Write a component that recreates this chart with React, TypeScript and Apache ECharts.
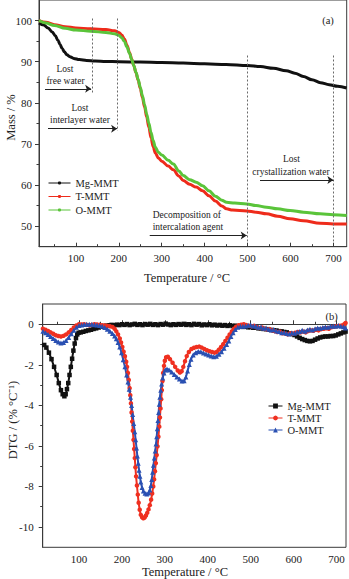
import React, { useEffect, useRef } from 'react';
import * as echarts from 'echarts';

// ---- data -------------------------------------------------------------
const sampleNames = ['Mg-MMT', 'T-MMT', 'O-MMT'];
const dtgPrefix = 'DTG ';

const tempTicks = [100, 200, 300, 400, 500, 600, 700];
const tempMinorTicks = [50, 150, 250, 350, 450, 550, 650];
const massTicks = [50, 60, 70, 80, 90, 100];
const massMinorTicks = [55, 65, 75, 85, 95];
const dtgTicks = [-10, -8, -6, -4, -2, 0];
const dtgMinorTicks = [-9, -7, -5, -3, -1];

// TGA: [temperature °C, mass %]
const tgaMg = [[14,99.4],[25,98.9],[35,98.2],[45,97.2],[52,96.3],[58,95.2],[63,94.2],[68,93.2],[73,92.4],[79,91.7],[86,91.2],[95,90.8],[108,90.5],[125,90.3],[145,90.15],[170,90.05],[200,90.0],[250,89.9],[300,89.8],[350,89.65],[400,89.5],[450,89.3],[500,89.05],[530,88.8],[560,88.4],[590,87.8],[610,87.2],[630,86.4],[650,85.6],[670,84.9],[690,84.4],[710,84.0],[731,83.6]];
const tgaT = [[14,100],[30,99.6],[50,99.0],[75,98.5],[100,98.2],[135,98.0],[170,97.8],[190,97.5],[200,97.1],[207,96.5],[213,95.5],[219,94.0],[225,92.2],[230,90.6],[235,89.0],[240,87.3],[245,85.5],[250,83.5],[255,81.3],[260,79.0],[265,76.5],[270,74.0],[275,71.5],[280,69.3],[285,67.8],[292,66.6],[300,65.8],[315,64.6],[327,63.7],[340,62.2],[350,61.1],[365,60.2],[380,59.5],[395,58.6],[410,57.4],[425,56.1],[440,54.9],[451,54.2],[465,53.9],[498,53.7],[520,53.4],[544,53.0],[570,52.4],[599,51.8],[630,51.3],[669,50.7],[700,50.55],[731,50.5]];
const tgaO = [[14,100],[30,99.4],[50,98.8],[75,98.1],[100,97.7],[135,97.4],[170,97.1],[190,96.8],[200,96.4],[207,95.8],[213,94.9],[219,93.6],[225,92.0],[230,90.5],[235,89.0],[240,87.4],[245,85.7],[250,83.8],[255,81.7],[260,79.5],[265,77.2],[270,75.0],[275,72.8],[280,70.8],[285,69.2],[292,68.0],[300,67.3],[315,66.0],[327,65.1],[340,63.4],[350,62.3],[365,61.3],[380,60.7],[395,59.8],[410,58.6],[425,57.3],[440,56.3],[451,55.8],[470,55.6],[498,55.4],[520,55.0],[544,54.6],[570,54.2],[599,53.8],[630,53.4],[669,53.0],[700,52.8],[731,52.6]];

// DTG: [temperature °C, %/°C]
const dtgMg = [[15,-0.98],[19,-1.02],[24,-1.15],[30,-1.4],[36,-1.72],[42,-2.1],[48,-2.5],[53,-2.9],[58,-3.25],[62,-3.45],[66,-3.55],[69,-3.45],[72,-3.2],[75,-2.9],[78,-2.5],[81,-2.1],[84,-1.7],[87,-1.3],[90,-0.95],[93,-0.68],[96,-0.5],[99,-0.42],[104,-0.4],[110,-0.37],[116,-0.33],[122,-0.3],[128,-0.27],[134,-0.23],[140,-0.2],[146,-0.16],[152,-0.12],[158,-0.09],[164,-0.07],[170,-0.05],[176,-0.03],[182,-0.05],[188,-0.02],[194,-0.04],[200,0.0],[206,-0.03],[212,0.01],[218,-0.04],[224,-0.01],[230,0.02],[236,-0.03],[242,0.0],[248,-0.04],[254,0.01],[260,-0.02],[266,0.02],[272,-0.03],[278,0.0],[284,-0.04],[290,0.01],[296,-0.02],[302,0.03],[308,-0.01],[314,-0.04],[320,0.0],[326,-0.03],[332,0.01],[338,-0.02],[344,0.02],[350,-0.03],[356,0.0],[362,-0.04],[368,0.02],[374,-0.02],[380,0.01],[386,-0.05],[392,-0.01],[398,-0.04],[404,0.0],[410,-0.05],[416,-0.02],[422,-0.06],[428,-0.03],[434,-0.07],[440,-0.04],[446,-0.08],[452,-0.05],[458,-0.09],[464,-0.07],[470,-0.11],[476,-0.1],[482,-0.13],[488,-0.12],[494,-0.15],[500,-0.14],[506,-0.17],[512,-0.16],[518,-0.2],[524,-0.2],[530,-0.23],[536,-0.24],[542,-0.27],[548,-0.28],[554,-0.3],[560,-0.31],[566,-0.34],[572,-0.35],[578,-0.38],[584,-0.4],[590,-0.45],[596,-0.48],[602,-0.53],[608,-0.6],[614,-0.67],[620,-0.73],[626,-0.78],[632,-0.82],[638,-0.84],[644,-0.82],[650,-0.76],[656,-0.7],[662,-0.65],[668,-0.62],[674,-0.6],[680,-0.6],[686,-0.58],[692,-0.58],[698,-0.55],[704,-0.5],[710,-0.45],[716,-0.4],[721,-0.36]];
const dtgT = [[16,-0.22],[22,-0.27],[28,-0.33],[34,-0.4],[40,-0.47],[46,-0.54],[52,-0.58],[58,-0.6],[64,-0.57],[70,-0.5],[76,-0.4],[82,-0.28],[88,-0.16],[94,-0.06],[100,0.0],[106,-0.01],[112,0.0],[118,-0.03],[124,-0.05],[130,-0.03],[136,0.0],[142,-0.01],[148,-0.03],[154,-0.05],[160,-0.06],[166,-0.08],[172,-0.1],[178,-0.13],[183,-0.22],[187,-0.35],[191,-0.5],[195,-0.7],[198,-0.9],[201,-1.12],[204,-1.35],[207,-1.58],[210,-1.85],[212,-2.1],[214,-2.4],[216,-2.75],[218,-3.15],[219.5,-3.5],[221,-3.9],[222.5,-4.35],[224,-4.8],[225.5,-5.25],[227,-5.7],[228.5,-6.15],[230,-6.6],[231.5,-7.05],[233,-7.5],[235,-7.95],[237,-8.4],[239,-8.8],[241.5,-9.15],[244,-9.4],[247,-9.52],[250,-9.57],[253,-9.53],[256,-9.43],[259,-9.3],[262,-9.13],[265,-8.92],[268,-8.65],[270.5,-8.35],[273,-8.0],[275,-7.65],[277,-7.25],[279,-6.85],[281,-6.45],[283,-6.02],[285,-5.55],[287,-5.05],[288.5,-4.6],[290,-4.15],[291.5,-3.7],[293,-3.25],[294.5,-2.8],[296,-2.4],[298,-2.05],[300,-1.8],[303,-1.63],[307,-1.6],[312,-1.72],[318,-1.9],[324,-2.1],[330,-2.28],[335,-2.38],[339,-2.32],[343,-2.1],[347,-1.82],[351,-1.57],[356,-1.37],[362,-1.22],[368,-1.16],[374,-1.12],[380,-1.1],[386,-1.15],[392,-1.22],[398,-1.28],[404,-1.33],[410,-1.37],[416,-1.4],[421,-1.36],[426,-1.25],[431,-1.12],[436,-0.98],[441,-0.82],[446,-0.66],[451,-0.5],[456,-0.35],[461,-0.22],[466,-0.12],[472,-0.05],[478,-0.02],[484,0.0],[490,-0.04],[496,-0.07],[502,-0.1],[508,-0.08],[514,-0.14],[520,-0.18],[526,-0.16],[532,-0.22],[538,-0.26],[544,-0.24],[550,-0.3],[556,-0.34],[562,-0.38],[568,-0.36],[574,-0.44],[580,-0.46],[586,-0.5],[592,-0.44],[598,-0.47],[604,-0.42],[610,-0.38],[616,-0.4],[622,-0.36],[628,-0.4],[634,-0.33],[640,-0.3],[646,-0.32],[652,-0.27],[658,-0.3],[664,-0.24],[670,-0.22],[676,-0.2],[682,-0.22],[688,-0.15],[694,-0.12],[700,-0.1],[706,-0.08],[712,-0.06],[718,0.0],[721,0.06]];
const dtgO = [[16,-0.35],[22,-0.42],[28,-0.5],[34,-0.6],[40,-0.7],[46,-0.8],[52,-0.88],[58,-0.92],[64,-0.9],[70,-0.8],[76,-0.65],[82,-0.47],[88,-0.3],[94,-0.15],[100,-0.06],[106,-0.03],[112,-0.01],[118,0.0],[124,0.0],[130,0.0],[136,-0.02],[142,-0.04],[148,-0.06],[154,-0.1],[160,-0.16],[166,-0.24],[172,-0.34],[178,-0.46],[183,-0.58],[187,-0.72],[191,-0.9],[195,-1.12],[199,-1.4],[203,-1.75],[207,-2.1],[211,-2.5],[214,-2.85],[217,-3.2],[220,-3.6],[222.5,-4.0],[225,-4.45],[227.5,-4.9],[230,-5.3],[232,-5.7],[234,-6.1],[236,-6.5],[238,-6.85],[240,-7.2],[242,-7.5],[244,-7.78],[247,-8.05],[250,-8.22],[254,-8.33],[258,-8.37],[262,-8.32],[265,-8.18],[267.5,-7.95],[269.5,-7.65],[271.5,-7.3],[273.5,-6.95],[275.5,-6.6],[277.5,-6.25],[279.5,-5.9],[281,-5.55],[282.5,-5.15],[284,-4.75],[285.5,-4.35],[287,-3.95],[288.5,-3.6],[290.5,-3.25],[292.5,-2.95],[295,-2.65],[298,-2.4],[301,-2.25],[305,-2.2],[310,-2.25],[316,-2.36],[322,-2.48],[328,-2.6],[334,-2.7],[340,-2.8],[345,-2.78],[349,-2.6],[353,-2.3],[357,-1.98],[361,-1.72],[366,-1.52],[372,-1.4],[378,-1.34],[384,-1.36],[390,-1.42],[396,-1.47],[402,-1.52],[408,-1.57],[414,-1.6],[420,-1.58],[426,-1.48],[432,-1.35],[438,-1.18],[444,-1.0],[449,-0.82],[454,-0.6],[459,-0.42],[464,-0.26],[470,-0.15],[476,-0.1],[482,-0.1],[488,-0.08],[494,-0.05],[500,-0.04],[506,-0.08],[512,-0.1],[518,-0.15],[524,-0.14],[530,-0.2],[536,-0.18],[542,-0.24],[548,-0.28],[554,-0.26],[560,-0.33],[566,-0.36],[572,-0.42],[578,-0.4],[584,-0.45],[590,-0.48],[596,-0.42],[602,-0.44],[608,-0.38],[614,-0.36],[620,-0.3],[626,-0.34],[632,-0.28],[638,-0.25],[644,-0.28],[650,-0.22],[656,-0.18],[662,-0.2],[668,-0.16],[674,-0.13],[680,-0.15],[686,-0.1],[692,-0.08],[698,-0.1],[704,-0.06],[710,-0.1],[716,-0.12],[721,-0.18]];

// Stage boundaries (dotted) and stage arrows: [T start, T end, mass from, mass to]
const stageBounds = [[137, 137, 100.5, 82.2], [197, 197, 100.5, 73.2], [500, 500, 91.5, 46.3], [700, 700, 91.5, 46.3]];
const stageArrows = [[28, 135.5, 83.4, 83.4], [35, 196, 73.7, 73.7], [529, 700, 61.2, 61.2], [272, 498, 47.7, 47.7]];

// ---- styling ----------------------------------------------------------
const FONT = 'Liberation Serif';
const INK = '#222';
const AXIS = '#3a3a3a';
const colors = ['#111111', '#ee2b1b', '#5ac43a'];
const dtgColors = ['#111111', '#ef3020', '#2a50b2'];

const tempRangeA = [14, 731];
const tempRangeB = [15.5, 722];

function axisPair(kind: 'x' | 'y', gridIndex: number, range: number[], major: number[], minor: number[], opts: any) {
  const base = {
    type: 'value',
    gridIndex,
    min: range[0],
    max: range[1],
    position: kind === 'x' ? 'bottom' : 'left',
    splitLine: { show: false },
  };
  return [
    {
      ...base,
      axisLine: { show: true, lineStyle: { color: AXIS, width: 1 } },
      axisTick: { show: true, inside: opts.inside, length: 4, customValues: major, lineStyle: { color: AXIS } },
      axisLabel: { show: true, customValues: major, margin: opts.margin, fontFamily: FONT, fontSize: 11, color: INK },
    },
    {
      ...base,
      axisLine: { show: false },
      axisTick: { show: true, inside: opts.inside, length: 2.5, customValues: minor, lineStyle: { color: AXIS } },
      axisLabel: { show: false },
    },
  ];
}

function tgaSeries(name: string, data: number[][], color: string) {
  return {
    type: 'line', name, xAxisIndex: 0, yAxisIndex: 0, data,
    symbol: 'circle', symbolSize: 3, showSymbol: false, smooth: 0.35, smoothMonotone: 'x',
    lineStyle: { color, width: 3 }, itemStyle: { color },
  };
}

function dtgSeries(name: string, data: number[][], color: string, symbol: string, size: number) {
  return {
    type: 'line', name: dtgPrefix + name, xAxisIndex: 2, yAxisIndex: 2, data,
    symbol, symbolSize: size, showSymbol: true, showAllSymbol: true, smooth: 0.3,
    lineStyle: { color, width: 2 }, itemStyle: { color },
  };
}

function text(x: number, y: number, str: string, size: number, extra: any = {}) {
  return {
    type: 'text', x, y, rotation: extra.rotation || 0,
    style: {
      text: str, fill: extra.fill || INK, fontFamily: FONT, fontSize: size,
      align: extra.align || 'center', verticalAlign: extra.verticalAlign || 'middle',
    },
  };
}

const option = {
  animation: false,
  backgroundColor: '#ffffff',
  textStyle: { fontFamily: FONT },
  grid: [
    { left: 39, top: 0, width: 307.7, height: 246.7, show: true, borderColor: AXIS, borderWidth: 1, backgroundColor: 'transparent' },
    { left: 42.7, top: 304, width: 303.3, height: 243.3, show: true, borderColor: AXIS, borderWidth: 1, backgroundColor: 'transparent' },
  ],
  xAxis: [
    ...axisPair('x', 0, tempRangeA, tempTicks, tempMinorTicks, { inside: true, margin: 6 }),
    ...axisPair('x', 1, tempRangeB, tempTicks, tempMinorTicks, { inside: true, margin: 6 }),
  ],
  yAxis: [
    ...axisPair('y', 0, [45, 105], massTicks, massMinorTicks, { inside: false, margin: 7 }),
    ...axisPair('y', 1, [-11, 1], dtgTicks, dtgMinorTicks, { inside: false, margin: 9 }),
  ],
  legend: [
    {
      left: 43, top: 172, orient: 'vertical', itemWidth: 22, itemHeight: 4, itemGap: 1.5,
      selectedMode: false, data: sampleNames,
      lineStyle: { width: 1 },
      textStyle: { fontFamily: FONT, fontSize: 10.5, color: INK, lineHeight: 12 },
    },
    {
      left: 263, top: 395, orient: 'vertical', itemWidth: 14, itemHeight: 6, itemGap: 0,
      selectedMode: false, data: sampleNames.map((n) => dtgPrefix + n),
      formatter: (n: string) => n.slice(dtgPrefix.length),
      lineStyle: { width: 1 },
      textStyle: { fontFamily: FONT, fontSize: 10.5, color: INK, lineHeight: 12 },
    },
  ],
  series: [
    tgaSeries(sampleNames[0], tgaMg, colors[0]),
    tgaSeries(sampleNames[1], tgaT, colors[1]),
    tgaSeries(sampleNames[2], tgaO, colors[2]),
    {
      type: 'line', name: 'stage bounds', xAxisIndex: 0, yAxisIndex: 0, data: [],
      markLine: {
        silent: true, symbol: ['none', 'none'], label: { show: false },
        lineStyle: { color: '#6a6a6a', width: 1, type: [2, 2] },
        data: stageBounds.map(([t0, t1, m0, m1]) => [{ coord: [t0, m0] }, { coord: [t1, m1] }]),
      },
    },
    {
      type: 'line', name: 'stage arrows', xAxisIndex: 0, yAxisIndex: 0, data: [],
      markLine: {
        silent: true, symbol: ['none', 'arrow'], symbolSize: 6, label: { show: false },
        lineStyle: { color: '#222', width: 1, type: 'solid' },
        data: stageArrows.map(([t0, t1, m0, m1]) => [{ coord: [t0, m0] }, { coord: [t1, m1] }]),
      },
    },
    dtgSeries(sampleNames[0], dtgMg, dtgColors[0], 'rect', 4.5),
    dtgSeries(sampleNames[1], dtgT, dtgColors[1], 'circle', 4.5),
    dtgSeries(sampleNames[2], dtgO, dtgColors[2], 'triangle', 5),
  ],
  graphic: [
    text(328, 20, '(a)', 10.5),
    text(331.7, 316, '(b)', 10.5),
    text(65, 69, 'Lost', 9.5),
    text(65.5, 80.5, 'free water', 9.5),
    text(80, 107.5, 'Lost', 9.5),
    text(80, 119.5, 'interlayer water', 9.5),
    text(291.5, 159.3, 'Lost', 9.5),
    text(291, 171.7, 'crystallization water', 9.5),
    text(152.7, 215, 'Decomposition of', 9.5, { align: 'left' }),
    text(152.7, 227.3, 'intercalation agent', 9.5, { align: 'left' }),
    text(187, 278, 'Temperature / °C', 12.5),
    text(185, 571.5, 'Temperature / °C', 12.5),
    text(11, 117.5, 'Mass / %', 12.5, { rotation: Math.PI / 2 }),
    text(12.5, 420, 'DTG / (% °C⁻¹)', 12.5, { rotation: Math.PI / 2 }),
  ],
};

export default function App() {
  const ref = useRef<HTMLDivElement>(null);
  useEffect(() => {
    if (!ref.current) return;
    const chart = echarts.init(ref.current, null, { renderer: 'svg' });
    chart.setOption(option as any);
    return () => chart.dispose();
  }, []);
  return (
    <div
      ref={ref}
      style={{ position: 'fixed', left: 0, top: 0, width: 349, height: 579, background: '#fff' }}
    />
  );
}
